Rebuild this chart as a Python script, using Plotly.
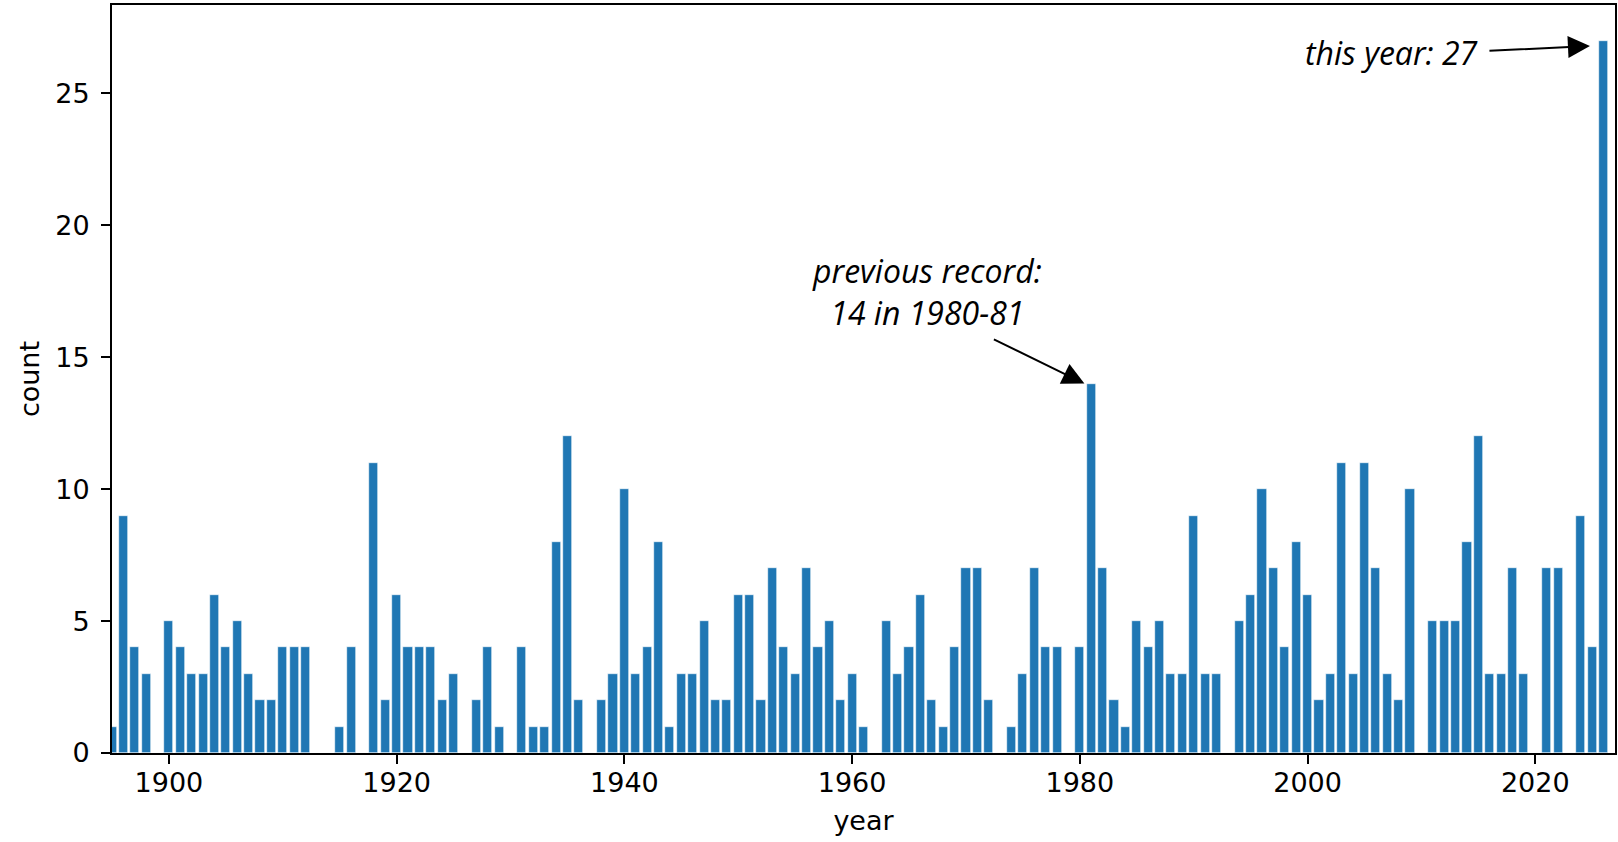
import plotly.graph_objects as go

years = list(range(1895, 2027))
counts = [
    1, 9, 4, 3, 0,            # 1895-1899
    5, 4, 3, 3, 6, 4, 5, 3, 2, 2,   # 1900-1909
    4, 4, 4, 0, 0, 1, 4, 0, 11, 2,  # 1910-1919
    6, 4, 4, 4, 2, 3, 0, 2, 4, 1,   # 1920-1929
    0, 4, 1, 1, 8, 12, 2, 0, 2, 3,  # 1930-1939
    10, 3, 4, 8, 1, 3, 3, 5, 2, 2,  # 1940-1949
    6, 6, 2, 7, 4, 3, 7, 4, 5, 2,   # 1950-1959
    3, 1, 0, 5, 3, 4, 6, 2, 1, 4,   # 1960-1969
    7, 7, 2, 0, 1, 3, 7, 4, 4, 0,   # 1970-1979
    4, 14, 7, 2, 1, 5, 4, 5, 3, 3,  # 1980-1989
    9, 3, 3, 0, 5, 6, 10, 7, 4, 8,  # 1990-1999
    6, 2, 3, 11, 3, 11, 7, 3, 2, 10,  # 2000-2009
    0, 5, 5, 5, 8, 12, 3, 3, 7, 3,  # 2010-2019
    0, 7, 7, 0, 9, 4, 27,           # 2020-2026
]

x_ticks = [1900, 1920, 1940, 1960, 1980, 2000, 2020]
y_ticks = [0, 5, 10, 15, 20, 25]

record_year = 1981
record_value = 14
this_year = 2026
this_value = 27

tick_font = dict(family="DejaVu Sans", size=27, color="black")
ann_font = dict(family="Open Sans", size=32, color="black", style="italic")

fig = go.Figure()
fig.add_trace(go.Bar(
    x=years, y=counts, width=0.8,
    marker=dict(color="#1f77b4", line=dict(color="white", width=0.6)),
    hoverinfo="skip",
))

# text labels
fig.add_annotation(x=1966.6, y=17.5, xref="x", yref="y",
                   text="previous record:<br>14 in 1980-81", showarrow=False,
                   font=ann_font, align="center")
fig.add_annotation(x=2007.4, y=26.55, xref="x", yref="y",
                   text="this year: 27", showarrow=False,
                   font=ann_font, align="center")
# arrows
fig.add_annotation(x=record_year - 0.6, y=record_value, xref="x", yref="y",
                   text="", showarrow=True, ax=-92, ay=-45,
                   arrowhead=2, arrowsize=2.2, arrowwidth=2, arrowcolor="black")
fig.add_annotation(x=this_year - 1.2, y=this_value - 0.2, xref="x", yref="y",
                   text="", showarrow=True, ax=-102, ay=5,
                   arrowhead=2, arrowsize=2.2, arrowwidth=2, arrowcolor="black")

fig.update_layout(
    width=1618, height=842,
    margin=dict(l=112, r=3, t=5, b=89, autoexpand=False),
    paper_bgcolor="white", plot_bgcolor="white",
    showlegend=False, bargap=0,
)
fig.update_xaxes(
    range=[1895, 2027], tickmode="array", tickvals=x_ticks,
    ticks="outside", ticklen=9, tickwidth=2, tickcolor="black",
    showline=True, linecolor="black", linewidth=2, mirror=True,
    showgrid=False, zeroline=False, tickfont=tick_font,
    ticklabelstandoff=-4, automargin=False,
    title=dict(text="year", font=tick_font, standoff=14),
)
fig.update_yaxes(
    range=[0, 28.35], tickmode="array", tickvals=y_ticks,
    ticks="outside", ticklen=9, tickwidth=2, tickcolor="black",
    showline=True, linecolor="black", linewidth=2, mirror=True,
    showgrid=False, zeroline=False, tickfont=tick_font,
    ticklabelstandoff=6, automargin=False,
    title=dict(text="count", font=tick_font, standoff=8),
)

fig.write_html("out.html",
               config={"displayModeBar": False},
               post_script="document.body.style.margin='0';document.body.style.overflow='hidden';")
